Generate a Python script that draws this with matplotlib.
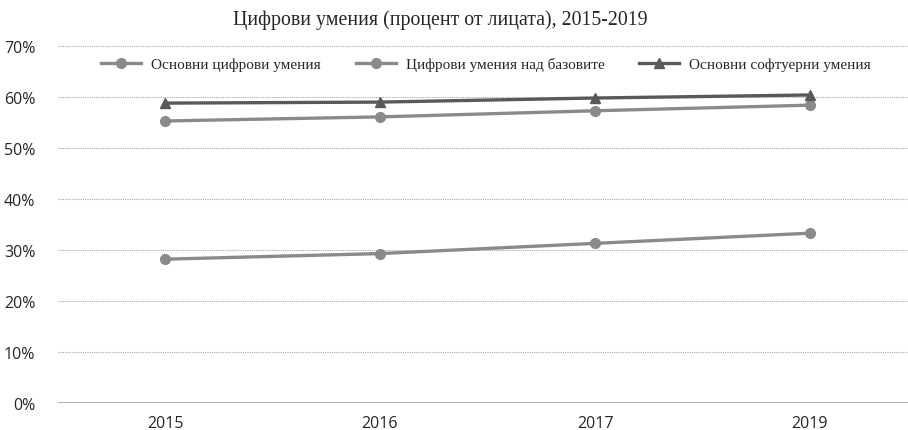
import matplotlib
matplotlib.use("Agg")
import matplotlib.pyplot as plt
from matplotlib.ticker import FuncFormatter

years = ["2015", "2016", "2017", "2019"]
basic_digital = [55.3, 56.1, 57.3, 58.4]
above_basic = [28.2, 29.3, 31.3, 33.3]
basic_software = [58.8, 59.0, 59.8, 60.4]
series_names = ["Основни цифрови умения", "Цифрови умения над базовите", "Основни софтуерни умения"]
title = "Цифрови умения (процент от лицата), 2015-2019"

W, H = 908, 431
fig = plt.figure(figsize=(W / 100, H / 100), dpi=100)
left_px, right_px, top_px, bot_px = 57.5, 908, 47, 404
ax = fig.add_axes([left_px / W, 1 - bot_px / H, (right_px - left_px) / W, (bot_px - top_px) / H])

x = list(range(len(years)))
light = "#8a8a8a"
dark = "#595959"
l1, = ax.plot(x, basic_digital, color=light, lw=2.4, marker="o", ms=7, label=series_names[0])
l2, = ax.plot(x, above_basic, color=light, lw=2.4, marker="o", ms=7, label=series_names[1])
l3, = ax.plot(x, basic_software, color=dark, lw=2.4, marker="^", ms=7, label=series_names[2])

ax.set_ylim(0, 70)
ax.set_yticks(range(0, 71, 10))
ax.yaxis.set_major_formatter(FuncFormatter(lambda v, p: f"{int(v)}%"))
ax.set_xlim(-0.5, 3.5 - 9.5 / 215)
ax.set_xticks(x)
ax.set_xticklabels(years)

for s in ax.spines.values():
    s.set_visible(False)
ax.grid(axis="y", color="#a6a6a6", lw=0.8, ls=(0, (1, 1)))
ax.axhline(0, color="#a6a6a6", lw=1.2, zorder=1)
ax.tick_params(axis="both", length=0, labelsize=11.5, colors="#262626")
ax.tick_params(axis="y", pad=16)
ax.tick_params(axis="x", pad=9)
for lab in ax.get_xticklabels() + ax.get_yticklabels():
    lab.set_family(["Open Sans", "DejaVu Sans"])

fig.text(440 / W, 1 - 20 / H, title, ha="center", va="center",
         family=["Liberation Serif", "DejaVu Serif"], fontsize=14.3, color="#262626")

leg = ax.legend(handles=[l1, l2, l3], loc="center", bbox_to_anchor=(0.504, 1 - (65 - top_px) / (bot_px - top_px)),
                ncol=3, frameon=False, prop={"family": ["Liberation Serif", "DejaVu Serif"], "size": 11},
                handlelength=2.6, columnspacing=2.3, handletextpad=0.65)
for t in leg.get_texts():
    t.set_color("#262626")

fig.savefig("out.png", dpi=100, facecolor="white")
